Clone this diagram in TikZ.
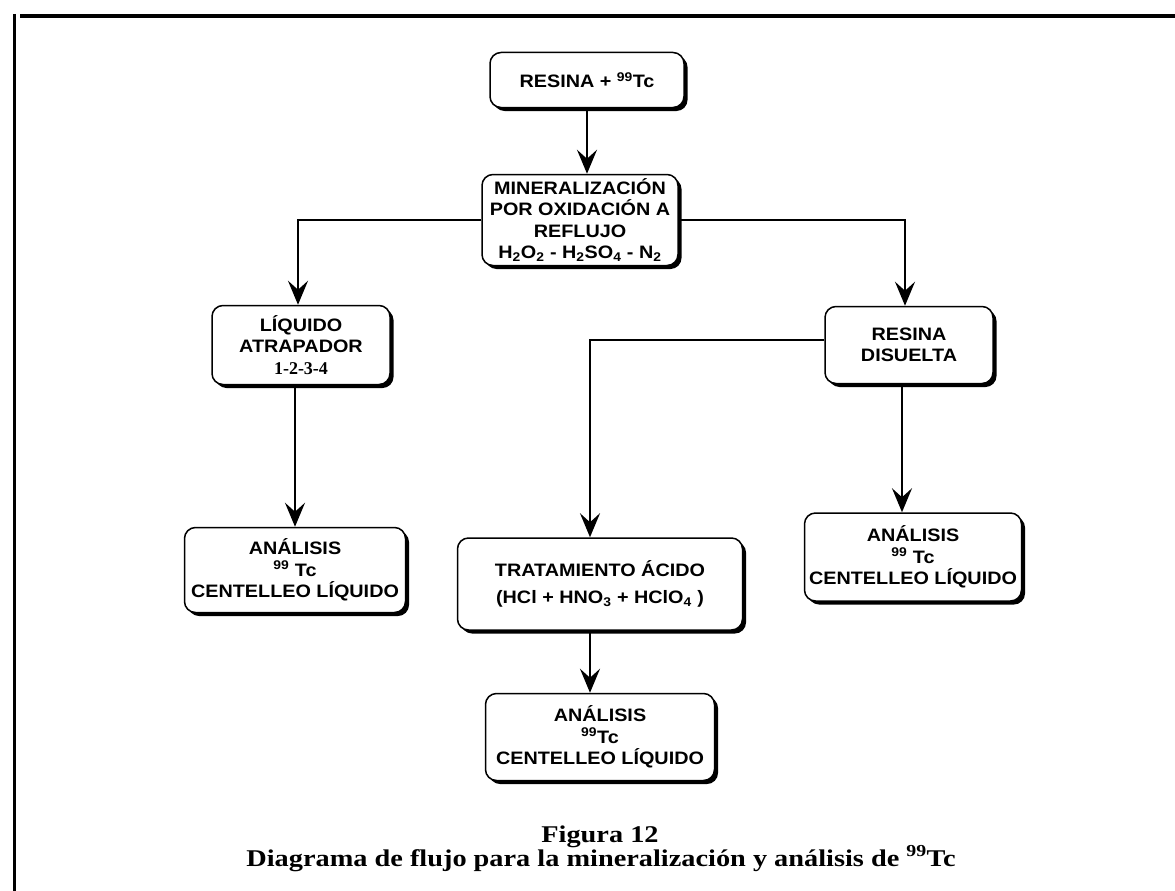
\documentclass[tikz,border=0pt]{standalone}
\usepackage{fontspec}
\setmainfont{Liberation Sans}[FakeStretch=1.1]
\newfontfamily\serifb{Liberation Serif}
\newfontfamily\serifw{Liberation Serif}[FakeStretch=1.18]
\usetikzlibrary{arrows.meta,shadows}
\tikzset{caja/.style={draw,rounded corners=11pt,line width=1.5pt,fill=white,align=center,inner sep=1pt,
    font=\bfseries\fontsize{18}{21.5}\selectfont,
    drop shadow={shadow xshift=3.5pt,shadow yshift=-3.5pt,fill=black,opacity=1}},
  linea/.style={line width=2.2pt}}
\newcommand{\tecn}{\textsuperscript{99}Tc}
\begin{document}
\begin{tikzpicture}[x=1pt,y=-1pt,>={Stealth[length=24pt,width=20pt,inset=9pt]}]
    \useasboundingbox (0,0) rectangle (1175,891);
    \draw[line width=3.5pt] (20,16)--(1175,16);
    \draw[line width=3pt] (14,14)--(14,891);
    \node[caja,minimum width=194pt,minimum height=55pt] (res) at (587,80) {RESINA + \tecn};
    \node[caja,minimum width=196pt,minimum height=91pt] (mineral) at (580,220) {MINERALIZACIÓN\\POR OXIDACIÓN A\\REFLUJO\\H\textsubscript{2}O\textsubscript{2} - H\textsubscript{2}SO\textsubscript{4} - N\textsubscript{2}};
    \node[caja,minimum width=178pt,minimum height=79pt] (liq) at (301,345) {LÍQUIDO\\ATRAPADOR\\{\serifb 1-2-3-4}};
    \node[caja,minimum width=168pt,minimum height=77pt] (dis) at (909,345) {RESINA\\DISUELTA};
    \node[caja,minimum width=221pt,minimum height=85pt] (an1) at (295,570) {ANÁLISIS\\\textsuperscript{99} Tc\\CENTELLEO LÍQUIDO};
    \node[caja,minimum width=285pt,minimum height=92pt] (trat) at (600,584) {TRATAMIENTO ÁCIDO\\[5pt](HCl + HNO\textsubscript{3} + HClO\textsubscript{4} )};
    \node[caja,minimum width=217pt,minimum height=88pt] (an3) at (913,557) {ANÁLISIS\\\textsuperscript{99} Tc\\CENTELLEO LÍQUIDO};
    \node[caja,minimum width=229pt,minimum height=87pt] (an2) at (600,737) {ANÁLISIS\\\tecn\\CENTELLEO LÍQUIDO};
    \draw[linea,->] (res.south) -- (res.south |- mineral.north);
    \draw[linea,->] (mineral.west) -| ([xshift=-3pt]liq.north);
    \draw[linea,->] (mineral.east) -| ([xshift=-4pt]dis.north);
    \draw[linea,->] ([xshift=-6pt]liq.south) -- ([xshift=-6pt]liq.south |- an1.north);
    \draw[linea,->] ([yshift=5pt]dis.west) -| ([xshift=-10pt]trat.north);
    \draw[linea,->] ([xshift=-7pt]dis.south) -- ([xshift=-7pt]dis.south |- an3.north);
    \draw[linea,->] ([xshift=-10pt]trat.south) -- ([xshift=-10pt]trat.south |- an2.north);
    \node[anchor=base,font=\serifw\bfseries\fontsize{24}{28}\selectfont] (fig) at (600,842) {Figura 12};
    \node[anchor=base,font=\serifw\bfseries\fontsize{24}{28}\selectfont] (tit) at (601,866) {Diagrama de flujo para la mineralización y análisis de \tecn};
\end{tikzpicture}
\end{document}
